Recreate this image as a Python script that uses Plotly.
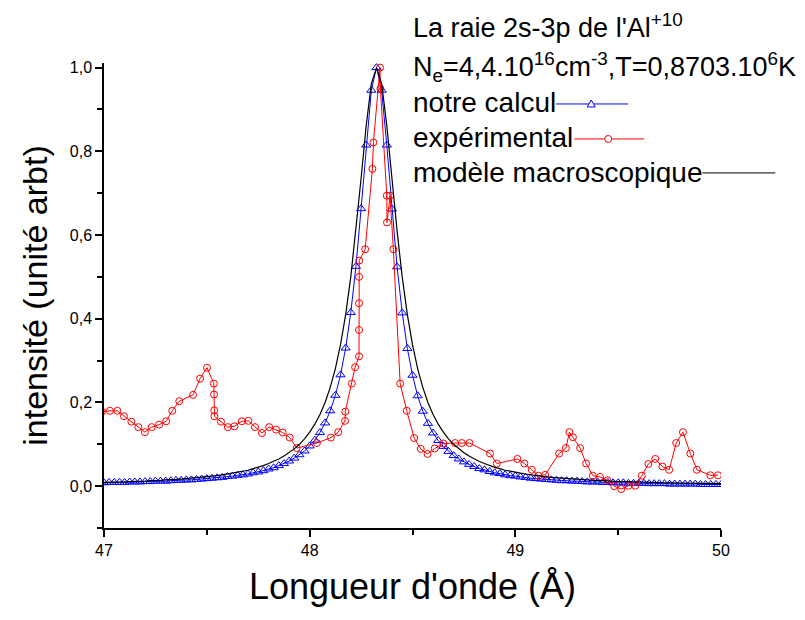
import plotly.graph_objects as go

# ---------------- data ----------------
wavelength = [
    47.000, 47.025, 47.050, 47.075, 47.100, 47.125, 47.150, 47.175, 47.200, 47.225,
    47.250, 47.275, 47.300, 47.325, 47.350, 47.375, 47.400, 47.425, 47.450, 47.475,
    47.500, 47.525, 47.550, 47.575, 47.600, 47.625, 47.650, 47.675, 47.700, 47.725,
    47.750, 47.775, 47.800, 47.825, 47.850, 47.875, 47.900, 47.925, 47.950, 47.975,
    48.000, 48.025, 48.050, 48.075, 48.100, 48.125, 48.150, 48.175, 48.200, 48.225,
    48.250, 48.275, 48.300, 48.325, 48.350, 48.375, 48.400, 48.425, 48.450, 48.475,
    48.500, 48.525, 48.550, 48.575, 48.600, 48.625, 48.650, 48.675, 48.700, 48.725,
    48.750, 48.775, 48.800, 48.825, 48.850, 48.875, 48.900, 48.925, 48.950, 48.975,
    49.000, 49.025, 49.050, 49.075, 49.100, 49.125, 49.150, 49.175, 49.200, 49.225,
    49.250, 49.275, 49.300, 49.325, 49.350, 49.375, 49.400, 49.425, 49.450, 49.475,
    49.500, 49.525, 49.550, 49.575, 49.600, 49.625, 49.650, 49.675, 49.700, 49.725,
    49.750, 49.775, 49.800, 49.825, 49.850, 49.875, 49.900, 49.925, 49.950, 49.975,
    50.000,
]

notre_calcul = [
    0.008, 0.009, 0.009, 0.009, 0.009, 0.010, 0.010, 0.010, 0.011, 0.011,
    0.012, 0.012, 0.012, 0.013, 0.014, 0.014, 0.015, 0.015, 0.016, 0.017,
    0.018, 0.019, 0.020, 0.021, 0.023, 0.024, 0.026, 0.027, 0.029, 0.032,
    0.034, 0.037, 0.041, 0.044, 0.049, 0.054, 0.060, 0.067, 0.075, 0.084,
    0.096, 0.110, 0.128, 0.151, 0.180, 0.217, 0.266, 0.330, 0.415, 0.525,
    0.663, 0.815, 0.946,
    1.000,
    0.946, 0.815, 0.662, 0.524, 0.414, 0.329, 0.265, 0.216, 0.179, 0.150,
    0.127, 0.109, 0.095, 0.083, 0.073, 0.065, 0.058, 0.052, 0.047, 0.042,
    0.039, 0.035, 0.032, 0.030, 0.027, 0.025, 0.024, 0.022, 0.021, 0.019,
    0.018, 0.017, 0.016, 0.015, 0.014, 0.013, 0.013, 0.012, 0.012, 0.011,
    0.010, 0.010, 0.010, 0.009, 0.009, 0.008, 0.008, 0.008, 0.007, 0.007,
    0.007, 0.007, 0.006, 0.006, 0.006, 0.006, 0.005, 0.005, 0.005, 0.005,
    0.005, 0.005, 0.004, 0.004, 0.004, 0.004, 0.004,
]

modele_macro = [
    0.009, 0.009, 0.010, 0.010, 0.010, 0.011, 0.011, 0.012, 0.012, 0.013,
    0.013, 0.014, 0.015, 0.015, 0.016, 0.017, 0.018, 0.019, 0.020, 0.021,
    0.022, 0.024, 0.025, 0.027, 0.029, 0.031, 0.033, 0.036, 0.038, 0.042,
    0.045, 0.049, 0.054, 0.059, 0.065, 0.072, 0.080, 0.089, 0.100, 0.113,
    0.129, 0.148, 0.171, 0.200, 0.236, 0.281, 0.338, 0.410, 0.500, 0.610,
    0.735, 0.862, 0.962,
    1.000,
    0.962, 0.862, 0.735, 0.610, 0.500, 0.410, 0.338, 0.281, 0.236, 0.200,
    0.171, 0.148, 0.129, 0.113, 0.100, 0.089, 0.080, 0.072, 0.065, 0.059,
    0.054, 0.049, 0.045, 0.042, 0.038, 0.036, 0.033, 0.031, 0.029, 0.027,
    0.025, 0.024, 0.022, 0.021, 0.020, 0.019, 0.018, 0.017, 0.016, 0.015,
    0.015, 0.014, 0.013, 0.013, 0.012, 0.012, 0.011, 0.011, 0.010, 0.010,
    0.010, 0.009, 0.009, 0.009, 0.008, 0.008, 0.008, 0.007, 0.007, 0.007,
    0.007, 0.007, 0.006, 0.006, 0.006, 0.006, 0.006,
]

exp_wavelength = [
    46.990, 47.029, 47.065, 47.097, 47.133, 47.167, 47.199, 47.232, 47.268, 47.302,
    47.332, 47.366, 47.433, 47.467, 47.501, 47.534, 47.535, 47.536, 47.537, 47.569,
    47.602, 47.634, 47.670, 47.702, 47.734, 47.768, 47.803, 47.837, 47.869, 47.903,
    47.937, 48.035, 48.103, 48.139, 48.172, 48.173, 48.205, 48.221, 48.240, 48.240,
    48.240, 48.240, 48.241, 48.270, 48.305, 48.310, 48.342, 48.344, 48.375, 48.376,
    48.391, 48.407, 48.440, 48.472, 48.508, 48.540, 48.573, 48.608, 48.650, 48.707,
    48.740, 48.777, 48.877, 48.910, 49.010, 49.044, 49.080, 49.112, 49.145, 49.213,
    49.246, 49.263, 49.280, 49.315, 49.344, 49.377, 49.412, 49.448, 49.481, 49.515,
    49.550, 49.583, 49.615, 49.647, 49.680, 49.715, 49.748, 49.782, 49.815, 49.851,
    49.883, 49.948, 49.985,
]
experimental = [
    0.178, 0.180, 0.180, 0.167, 0.154, 0.141, 0.129, 0.141, 0.147, 0.155,
    0.180, 0.203, 0.218, 0.257, 0.283, 0.245, 0.219, 0.181, 0.167, 0.154,
    0.141, 0.143, 0.155, 0.156, 0.141, 0.127, 0.141, 0.135, 0.128, 0.116,
    0.091, 0.103, 0.116, 0.129, 0.156, 0.178, 0.245, 0.284, 0.310, 0.373,
    0.437, 0.500, 0.539, 0.566, 0.758, 0.821, 1.000, 0.950, 0.694, 0.630,
    0.694, 0.566, 0.245, 0.180, 0.115, 0.089, 0.077, 0.090, 0.102, 0.103,
    0.103, 0.103, 0.078, 0.054, 0.065, 0.054, 0.039, 0.025, 0.027, 0.078,
    0.091, 0.129, 0.117, 0.091, 0.054, 0.025, 0.022, 0.014, 0.000, -0.007,
    0.001, 0.001, 0.025, 0.053, 0.065, 0.047, 0.039, 0.103, 0.129, 0.078,
    0.039, 0.026, 0.026,
]

x_ticks = [47, 48, 49, 50]
y_ticks = [0.0, 0.2, 0.4, 0.6, 0.8, 1.0]

title_lines = [
    "La raie 2s-3p de l'Al<sup>+10</sup>",
    "N<sub>e</sub>=4,4.10<sup>16</sup>cm<sup>-3</sup>,T=0,8703.10<sup>6</sup>K",
]
legend_labels = ["notre calcul", "expérimental", "modèle macroscopique"]

# ---------------- layout geometry ----------------
W, H = 805, 620
L, R, T, B = 104, 720.7, 63, 528.3
FONT = "Liberation Sans, Arial, sans-serif"


def pxx(px):
    return (px - L) / (R - L)


def pxy(py):
    return (B - py) / (B - T)


fig = go.Figure()

fig.add_trace(go.Scatter(
    x=wavelength, y=notre_calcul, mode="lines+markers", name=legend_labels[0],
    line=dict(color="#0000ff", width=1),
    marker=dict(symbol="triangle-up-open", size=8, color="#0000ff", line=dict(width=1)),
))
fig.add_trace(go.Scatter(
    x=exp_wavelength, y=experimental, mode="lines+markers", name=legend_labels[1],
    line=dict(color="#ff0000", width=1),
    marker=dict(symbol="circle-open", size=7, color="#ff0000", line=dict(width=1)),
))
fig.add_trace(go.Scatter(
    x=wavelength, y=modele_macro, mode="lines", name=legend_labels[2],
    line=dict(color="#000000", width=1.2),
))

annotations = []
annotations.append(dict(x=pxx(410.5), y=pxy(26), xref="paper", yref="paper",
                        text=title_lines[0], showarrow=False, xanchor="left", yanchor="middle",
                        font=dict(family=FONT, size=27, color="black")))
annotations.append(dict(x=pxx(410.5), y=pxy(67), xref="paper", yref="paper",
                        text=title_lines[1], showarrow=False, xanchor="left", yanchor="middle",
                        font=dict(family=FONT, size=27, color="black")))
row_y = [103, 138, 172.5]
for lab, ry in zip(legend_labels, row_y):
    annotations.append(dict(x=pxx(410.5), y=pxy(ry), xref="paper", yref="paper",
                            text=lab, showarrow=False, xanchor="left", yanchor="middle",
                            font=dict(family=FONT, size=28, color="black")))

shapes = []
samples = [
    ("#0000ff", 556, 628, 104, "tri", 591),
    ("#ff0000", 574, 644, 139, "circ", 608),
    ("#000000", 702, 775, 173, None, None),
]
for col, x0, x1, yy, mk, mx in samples:
    shapes.append(dict(type="line", xref="paper", yref="paper",
                       x0=pxx(x0), x1=pxx(x1), y0=pxy(yy), y1=pxy(yy),
                       line=dict(color=col, width=1)))
    if mk == "tri":
        shapes.append(dict(type="path", xref="paper", yref="paper",
                           xsizemode="pixel", ysizemode="pixel",
                           xanchor=pxx(mx), yanchor=pxy(yy),
                           path="M -4,-3 L 4,-3 L 0,4 Z",
                           fillcolor="white", line=dict(color=col, width=1)))
    elif mk == "circ":
        shapes.append(dict(type="circle", xref="paper", yref="paper",
                           xsizemode="pixel", ysizemode="pixel",
                           xanchor=pxx(mx), yanchor=pxy(yy),
                           x0=-3.5, x1=3.5, y0=-3.5, y1=3.5,
                           fillcolor="white", line=dict(color=col, width=1)))

fig.update_layout(
    width=W, height=H,
    margin=dict(l=L, r=W - R, t=T, b=H - B, pad=0),
    paper_bgcolor="white", plot_bgcolor="white",
    showlegend=False,
    separators=", ",
    font=dict(family=FONT, color="black"),
    annotations=annotations,
    shapes=shapes,
)

fig.update_xaxes(
    range=[47, 50], tickvals=x_ticks, ticktext=[str(v) for v in x_ticks],
    showgrid=False, zeroline=False, showline=True, linecolor="black", linewidth=1.5,
    ticks="outside", ticklen=7, tickwidth=1.5, tickcolor="black",
    minor=dict(dtick=0.5, tick0=47, ticks="outside", ticklen=5, tickwidth=1.5, tickcolor="black"),
    tickfont=dict(family=FONT, size=16, color="black"),
    title=dict(text="Longueur d'onde (Å)", font=dict(family=FONT, size=36, color="black"), standoff=16),
    automargin=False,
)
fig.update_yaxes(
    range=[-0.1, 1.011], tickvals=y_ticks, tickformat=".1f",
    showgrid=False, zeroline=False, showline=True, linecolor="black", linewidth=1.5,
    ticks="outside", ticklen=7, tickwidth=1.5, tickcolor="black",
    minor=dict(dtick=0.1, tick0=0, ticks="outside", ticklen=5, tickwidth=1.5, tickcolor="black"),
    tickfont=dict(family=FONT, size=16, color="black"),
    title=dict(text="intensité (unité arbt)", font=dict(family=FONT, size=34, color="black"), standoff=12),
    automargin=False,
)

fig.write_html("out.html")
